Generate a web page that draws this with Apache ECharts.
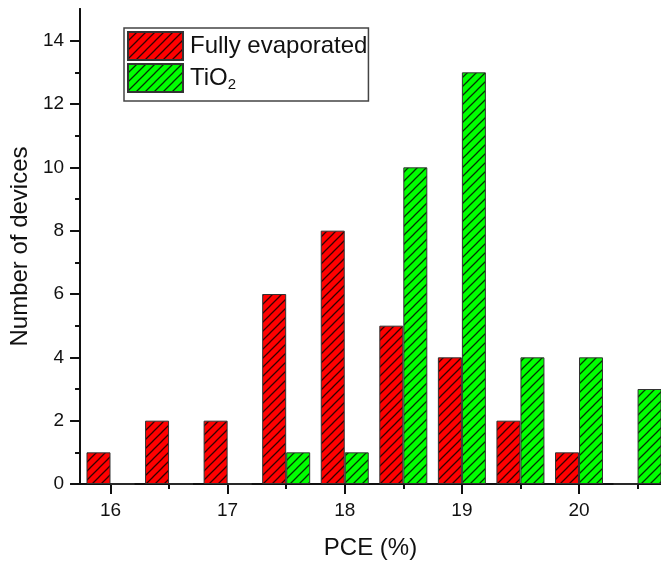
<!DOCTYPE html>
<html>
<head>
<meta charset="utf-8">
<script src="https://cdn.jsdelivr.net/npm/echarts@6/dist/echarts.min.js"></script>
<style>
  html, body { margin: 0; padding: 0; background: #fff; }
  #chart { width: 661px; height: 566px; }
</style>
</head>
<body>
<div id="chart"></div>
<script>
// PCE histogram: bin centres (%) and device counts per bin
const binCenters = [16, 16.5, 17, 17.5, 18, 18.5, 19, 19.5, 20, 20.5];
const fullyEvaporated = [1, 2, 2, 6, 8, 5, 4, 2, 1, 0];
const tio2 = [0, 0, 0, 1, 1, 10, 13, 4, 4, 3];

const xMajorTicks = [16, 17, 18, 19, 20];
const xMinorTicks = [16.5, 17.5, 18.5, 19.5, 20.5];
const yMajorTicks = [0, 2, 4, 6, 8, 10, 12, 14];
const yMinorTicks = [1, 3, 5, 7, 9, 11, 13];

const seriesNames = ['Fully evaporated', 'TiO2'];

// diagonal hatch fill on a solid colour
function hatch(fill) {
  const s = 9;
  const c = document.createElement('canvas');
  c.width = s; c.height = s;
  const g = c.getContext('2d');
  g.fillStyle = fill;
  g.fillRect(0, 0, s, s);
  g.strokeStyle = 'rgba(0,0,0,0.8)';
  g.lineWidth = 1.3;
  g.beginPath();
  g.moveTo(-1, s + 1); g.lineTo(s + 1, -1);
  g.moveTo(-2, 2); g.lineTo(2, -2);
  g.moveTo(s - 2, s + 2); g.lineTo(s + 2, s - 2);
  g.stroke();
  return { image: c, repeat: 'repeat' };
}

const FONT = 'Liberation Sans, Arial, sans-serif';
const INK = '#111';

const xMin = 15.74, xMax = 20.70;
const yMin = 0, yMax = 15;

const chart = echarts.init(document.getElementById('chart'), null, { renderer: 'canvas' });

const baseX = {
  type: 'value', min: xMin, max: xMax, position: 'bottom',
  splitLine: { show: false },
  axisLine: { show: true, onZero: false, lineStyle: { color: INK, width: 2 } }
};
const baseY = {
  type: 'value', min: yMin, max: yMax, position: 'left',
  splitLine: { show: false },
  axisLine: { show: true, onZero: false, lineStyle: { color: INK, width: 2 } }
};

chart.setOption({
  animation: false,
  backgroundColor: '#fff',
  textStyle: { fontFamily: FONT },
  grid: { left: 78, right: 0, top: 9, bottom: 82, containLabel: false },
  legend: {
    orient: 'vertical',
    left: 124, top: 28,
    width: 240,
    backgroundColor: '#fff',
    borderColor: '#444', borderWidth: 1.5,
    padding: [3, 1, 8, 3],
    itemWidth: 55, itemHeight: 28, itemGap: 2,
    icon: 'rect',
    selectedMode: false,
    data: seriesNames,
    textStyle: {
      fontFamily: FONT, fontSize: 24, color: INK, padding: [0, 0, 0, 2],
      rich: { sub: { fontFamily: FONT, fontSize: 15, color: INK, verticalAlign: 'bottom', padding: [13, 0, 0, 0] } }
    },
    formatter: n => n === 'TiO2' ? 'TiO{sub|2}' : n
  },
  xAxis: [
    Object.assign({}, baseX, {
      name: 'PCE (%)', nameLocation: 'middle', nameGap: 52,
      nameTextStyle: { fontFamily: FONT, fontSize: 24, color: INK },
      axisTick: { show: true, inside: false, length: 10, customValues: xMajorTicks, lineStyle: { color: INK, width: 2 } },
      axisLabel: { show: true, margin: 17, customValues: xMajorTicks, fontFamily: FONT, fontSize: 19, color: INK }
    }),
    Object.assign({}, baseX, {
      axisTick: { show: true, inside: false, length: 5, customValues: xMinorTicks, lineStyle: { color: INK, width: 2 } },
      axisLabel: { show: false }
    })
  ],
  yAxis: [
    Object.assign({}, baseY, {
      name: 'Number of devices', nameLocation: 'middle', nameGap: 43,
      nameTextStyle: { fontFamily: FONT, fontSize: 24, color: INK },
      axisTick: { show: true, inside: false, length: 10, customValues: yMajorTicks, lineStyle: { color: INK, width: 2 } },
      axisLabel: { show: true, margin: 16, customValues: yMajorTicks, fontFamily: FONT, fontSize: 19, color: INK }
    }),
    Object.assign({}, baseY, {
      axisTick: { show: true, inside: false, length: 5, customValues: yMinorTicks, lineStyle: { color: INK, width: 2 } },
      axisLabel: { show: false }
    })
  ],
  series: [
    {
      name: seriesNames[0], type: 'bar', xAxisIndex: 0, yAxisIndex: 0,
      barWidth: 24, barGap: '0%',
      itemStyle: { color: hatch('#ff0000'), borderColor: '#333', borderWidth: 1 },
      data: binCenters.map((x, i) => [x, fullyEvaporated[i]])
    },
    {
      name: seriesNames[1], type: 'bar', xAxisIndex: 0, yAxisIndex: 0,
      barWidth: 24, barGap: '0%',
      itemStyle: { color: hatch('#00ff00'), borderColor: '#333', borderWidth: 1 },
      data: binCenters.map((x, i) => [x, tio2[i]])
    }
  ]
});
</script>
</body>
</html>
